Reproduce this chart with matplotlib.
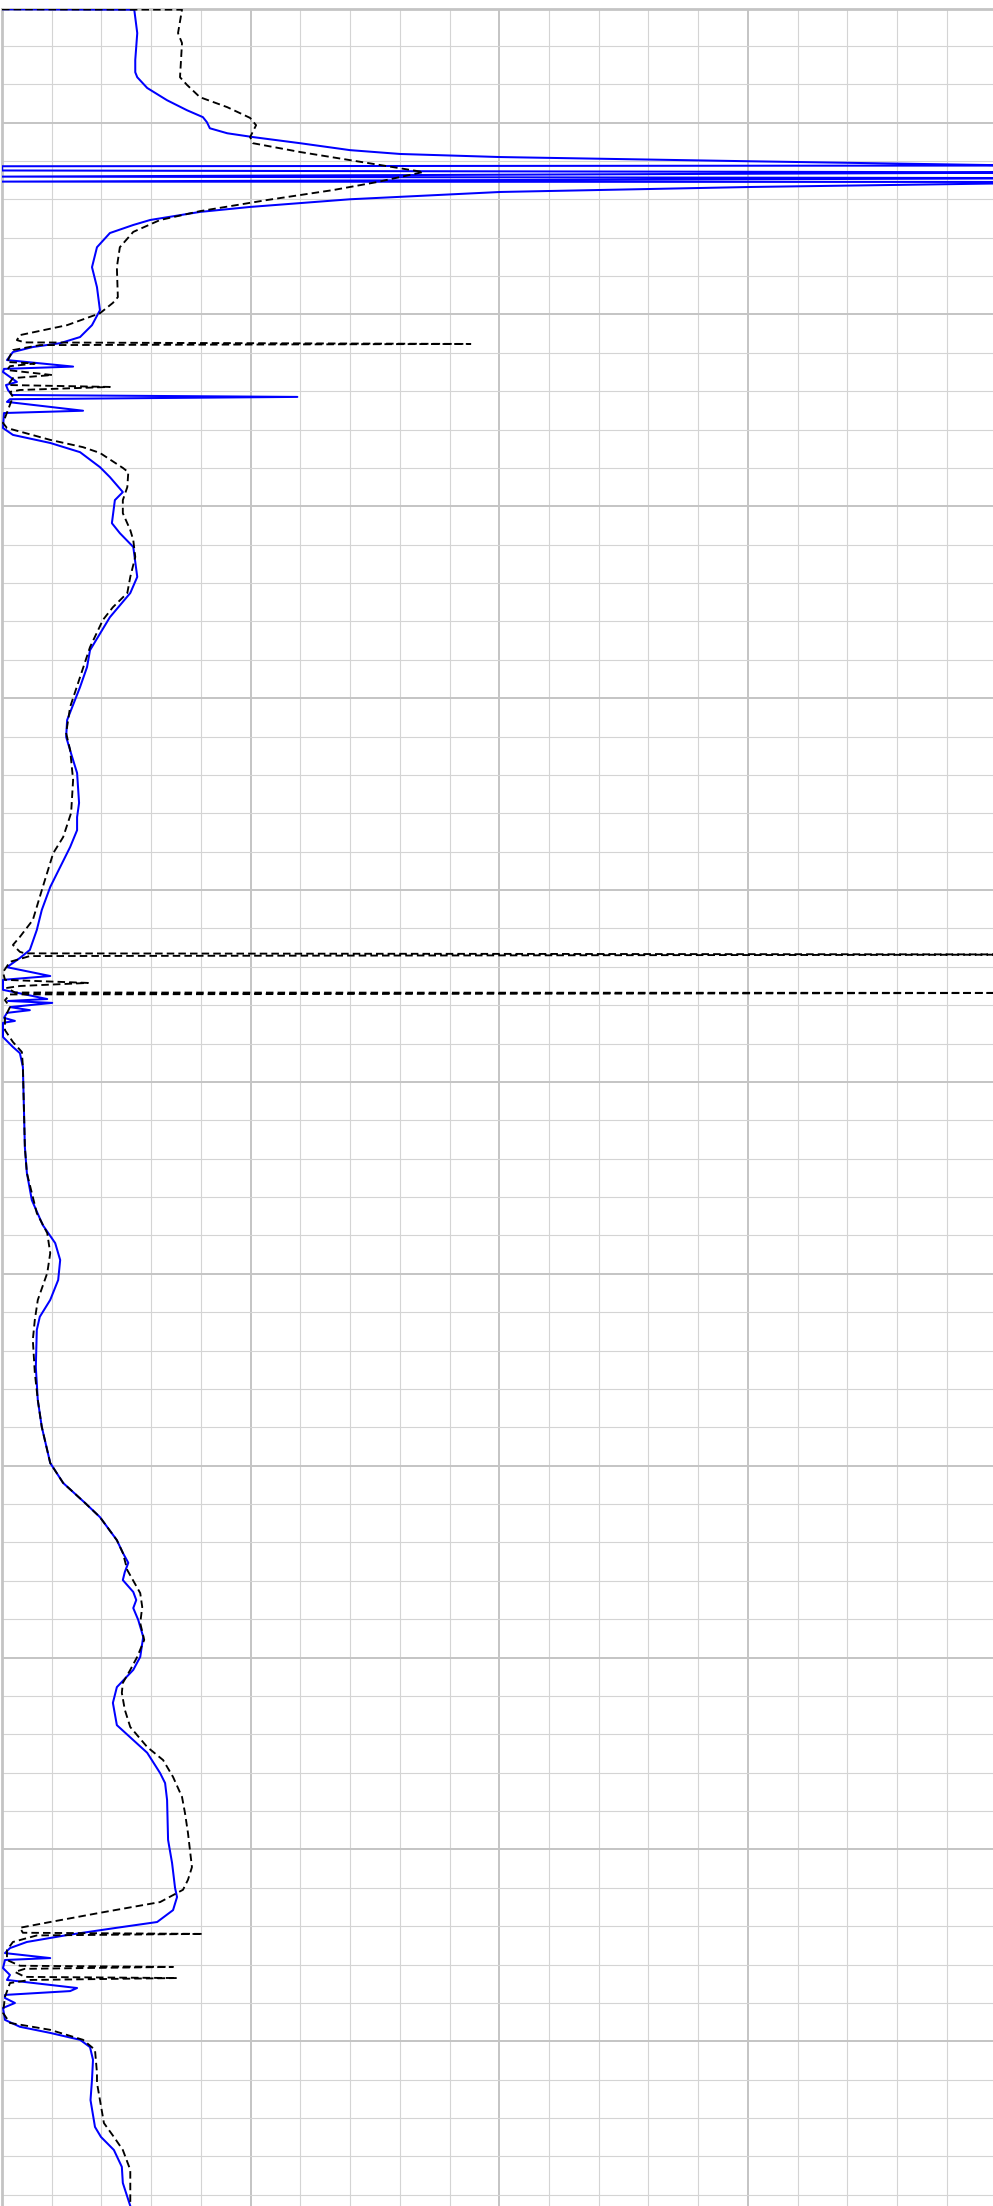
import matplotlib
matplotlib.use("Agg")
import matplotlib.pyplot as plt
from matplotlib.ticker import MultipleLocator

blue_depth = [1817.05, 1817.06, 1817.67, 1818.37, 1818.69, 1818.82, 1819.10, 1819.42, 1819.68, 1819.86,
              1819.99, 1820.15, 1820.28, 1820.38, 1820.54, 1820.72, 1820.82, 1820.90, 1821.01, 1821.11,
              1821.12, 1821.14, 1821.25, 1821.30, 1821.41, 1821.45, 1821.54, 1821.55, 1821.59, 1821.68,
              1821.81, 1822.00, 1822.20, 1822.33, 1822.54, 1822.67, 1822.88, 1823.25, 1823.77, 1824.29,
              1824.89, 1825.28, 1825.59, 1825.75, 1825.85, 1825.98, 1826.19, 1826.36, 1826.42, 1826.50,
              1826.76, 1826.84, 1826.97, 1827.10, 1827.15, 1827.21, 1827.28, 1827.51, 1827.57, 1827.96,
              1828.14, 1828.35, 1828.59, 1828.98, 1829.24, 1829.63, 1829.84, 1830.44, 1830.70, 1831.06,
              1831.84, 1832.26, 1832.89, 1833.75, 1834.19, 1834.71, 1835.57, 1836.01, 1836.53, 1836.95,
              1837.73, 1838.10, 1838.44, 1838.88, 1839.40, 1839.92, 1840.52, 1841.04, 1841.56, 1841.77,
              1842.01, 1842.24, 1842.34, 1842.60, 1842.84, 1842.89, 1842.94, 1843.05, 1843.13, 1843.20,
              1843.33, 1843.41, 1843.46, 1843.83, 1844.09, 1844.25, 1844.61, 1846.70, 1847.37, 1848.08,
              1848.73, 1849.20, 1849.64, 1850.16, 1850.68, 1851.12, 1851.46, 1852.43, 1853.29, 1853.99,
              1854.93, 1855.45, 1855.97, 1856.34, 1856.94, 1857.27, 1857.53, 1857.77, 1857.98, 1858.29,
              1858.50, 1858.71, 1859.02, 1859.46, 1859.98, 1860.32, 1860.77, 1861.18, 1861.76, 1862.15,
              1862.48, 1863.01, 1863.27, 1863.71, 1864.75, 1865.35, 1866.00, 1866.24, 1866.58, 1866.89,
              1867.04, 1867.23, 1867.41, 1867.57, 1867.70, 1867.83, 1867.88, 1868.09, 1868.27, 1868.40,
              1868.61, 1868.69, 1868.79, 1868.87, 1869.00, 1869.13, 1869.44, 1869.62, 1869.78, 1869.96,
              1870.15, 1870.48, 1871.00, 1871.53, 1872.23, 1872.49, 1872.83, 1873.27, 1873.69, 1874.29]
blue_val = [0, 26.6, 27.2, 26.8, 26.8, 27.2, 29.2, 33.2, 37.2, 40.4,
            41.2, 41.8, 45.3, 50.5, 60.0, 70.0, 80.1, 100.2, 150.5, 199.4,
            220.9, 0, 0, 220.9, 0, 220.9, 0, 220.9, 199.4, 150.5,
            100.2, 70.0, 49.9, 39.8, 29.8, 26.4, 21.7, 19.1, 18.1, 19.1,
            19.7, 18.1, 15.7, 11.7, 6.2, 2.2, 1.0, 14.3, 0.4, 0.2,
            3.0, 0.8, 1.2, 2.0, 59.4, 1.6, 1.0, 16.3, 0.4, 0.2,
            2.2, 9.7, 15.7, 19.7, 21.7, 24.3, 22.7, 22.1, 23.7, 26.4,
            27.2, 25.8, 21.7, 17.7, 17.1, 15.7, 13.1, 12.9, 14.1, 15.1,
            15.5, 15.1, 15.1, 13.7, 11.7, 9.7, 8.0, 7.0, 5.6, 3.6,
            1.0, 9.7, 0.2, 0.2, 9.1, 1.2, 10.1, 1.6, 5.6, 1.0,
            0.4, 2.6, 0.2, 0.2, 2.2, 3.6, 4.2, 4.6, 5.0, 6.0,
            8.2, 10.7, 11.7, 11.3, 9.7, 7.6, 7.0, 6.8, 7.2, 8.0,
            9.7, 12.3, 16.7, 19.7, 23.1, 24.3, 25.4, 24.7, 24.3, 26.4,
            27.0, 26.4, 27.4, 28.4, 27.8, 26.4, 23.1, 22.3, 23.1, 26.4,
            29.2, 31.8, 32.8, 33.2, 33.4, 34.2, 34.8, 35.2, 34.4, 31.2,
            23.1, 13.1, 5.0, 1.6, 0.6, 9.7, 0.6, 0.2, 1.6, 1.0,
            15.1, 13.7, 0.6, 0.6, 2.6, 0.2, 0.6, 3.6, 9.7, 15.7,
            17.7, 18.3, 18.1, 17.8, 18.7, 19.9, 22.5, 24.1, 24.3, 25.8]

black_depth = [1817.05, 1817.06, 1817.67, 1817.93, 1818.82, 1819.02, 1819.34, 1819.60, 1819.88, 1820.07,
               1820.38, 1820.54, 1820.77, 1820.98, 1821.29, 1821.55, 1821.76, 1822.02, 1822.31, 1822.54,
               1822.85, 1823.25, 1823.77, 1824.55, 1824.70, 1824.97, 1825.28, 1825.54, 1825.67, 1825.73,
               1825.77, 1825.80, 1825.93, 1826.24, 1826.28, 1826.35, 1826.45, 1826.58, 1826.66, 1826.84,
               1826.89, 1826.97, 1827.02, 1827.15, 1827.49, 1827.83, 1827.96, 1828.27, 1828.46, 1828.61,
               1829.00, 1829.11, 1829.50, 1829.84, 1830.18, 1830.62, 1830.88, 1831.32, 1831.84, 1832.26,
               1832.63, 1832.96, 1833.67, 1834.45, 1835.23, 1835.91, 1836.35, 1837.13, 1837.99, 1838.62,
               1839.04, 1839.92, 1840.52, 1840.78, 1841.22, 1841.43, 1841.61, 1841.65, 1841.68, 1841.72,
               1841.87, 1842.14, 1842.34, 1842.42, 1842.50, 1842.55, 1842.67, 1842.68, 1842.72, 1842.87,
               1843.05, 1843.31, 1843.65, 1843.96, 1844.22, 1844.61, 1846.70, 1847.37, 1848.42, 1848.94,
               1849.46, 1849.98, 1850.68, 1851.20, 1851.72, 1852.58, 1853.29, 1853.99, 1854.93, 1855.45,
               1855.97, 1856.34, 1856.94, 1857.27, 1857.72, 1858.32, 1858.68, 1859.10, 1859.54, 1859.98,
               1860.32, 1860.66, 1860.92, 1861.36, 1861.81, 1862.33, 1862.67, 1863.11, 1863.63, 1864.05,
               1864.57, 1865.46, 1865.79, 1866.05, 1866.37, 1866.65, 1866.89, 1867.04, 1867.17, 1867.20,
               1867.24, 1867.41, 1867.62, 1867.88, 1868.03, 1868.06, 1868.11, 1868.19, 1868.32, 1868.35,
               1868.40, 1868.48, 1868.84, 1869.26, 1869.52, 1869.70, 1869.96, 1870.22, 1870.82, 1871.08,
               1872.13, 1872.49, 1872.83, 1873.35, 1874.29]
black_val = [0, 36.2, 35.4, 36.2, 35.8, 37.2, 39.8, 45.3, 49.9, 51.1,
             49.9, 50.5, 60.0, 70.0, 84.7, 75.5, 66.6, 53.3, 39.8, 31.8,
             26.4, 23.7, 23.1, 23.3, 22.3, 19.7, 13.1, 3.6, 3.0, 4.6,
             94.2, 7.6, 2.2, 1.0, 6.6, 1.6, 1.0, 10.1, 2.2, 1.2,
             21.7, 3.6, 1.6, 2.2, 1.2, 0.2, 1.0, 9.7, 16.3, 19.7,
             24.3, 25.4, 25.2, 24.3, 24.3, 25.8, 26.4, 26.8, 25.8, 25.2,
             22.3, 20.3, 17.7, 15.7, 13.7, 12.9, 13.7, 14.3, 13.9, 12.3,
             10.3, 8.2, 6.8, 6.2, 3.6, 2.2, 3.6, 4.6, 220.9, 5.6,
             1.6, 0.2, 0.6, 17.3, 3.6, 1.0, 2.6, 220.9, 1.6, 0.6,
             1.6, 0.6, 0.6, 2.2, 4.0, 4.2, 4.6, 5.0, 7.0, 9.1,
             9.7, 9.1, 7.2, 6.6, 6.2, 6.6, 7.2, 8.0, 9.7, 12.3,
             16.7, 19.7, 23.1, 24.3, 25.2, 27.8, 28.2, 27.8, 28.6, 27.2,
             25.8, 24.3, 24.1, 24.7, 25.8, 29.2, 32.4, 34.4, 36.2, 36.8,
             37.4, 38.2, 37.4, 36.4, 31.8, 19.7, 9.7, 3.6, 4.2, 40.4,
             7.0, 2.2, 1.0, 1.0, 3.6, 34.4, 4.6, 2.6, 4.6, 35.2,
             5.6, 1.6, 0.6, 0.2, 1.6, 9.7, 16.3, 18.7, 19.1, 19.1,
             20.5, 22.5, 24.3, 25.8, 25.8]

top_depth = 1817.05
bottom_depth = 1874.29
x_max = 199.3

fig = plt.figure(figsize=(9.93, 22.06), dpi=100)
ax = fig.add_axes([2 / 993, 0, 991 / 993, 2196.7 / 2206])

ax.plot(blue_val, blue_depth, color='#0000ff', lw=1.45, zorder=3,
        solid_joinstyle='round')
ax.plot(black_val, black_depth, color='black', lw=1.35, ls='--', zorder=4,
        dashes=(4, 2.2))

ax.set_xlim(0, x_max)
ax.set_ylim(bottom_depth, top_depth)

ax.xaxis.set_major_locator(MultipleLocator(50))
ax.xaxis.set_minor_locator(MultipleLocator(10))
ax.yaxis.set_major_locator(MultipleLocator(5))
ax.yaxis.set_minor_locator(MultipleLocator(1))
ax.grid(which='major', color='#c4c4c4', lw=1.4)
ax.grid(which='minor', color='#d4d4d4', lw=0.8)
ax.set_axisbelow(True)

ax.tick_params(which='both', length=0, labelbottom=False, labelleft=False)
for side in ['top', 'left']:
    ax.spines[side].set_color('#c4c4c4')
    ax.spines[side].set_linewidth(2)
for side in ['right', 'bottom']:
    ax.spines[side].set_visible(False)

fig.savefig('out.png', dpi=100)
